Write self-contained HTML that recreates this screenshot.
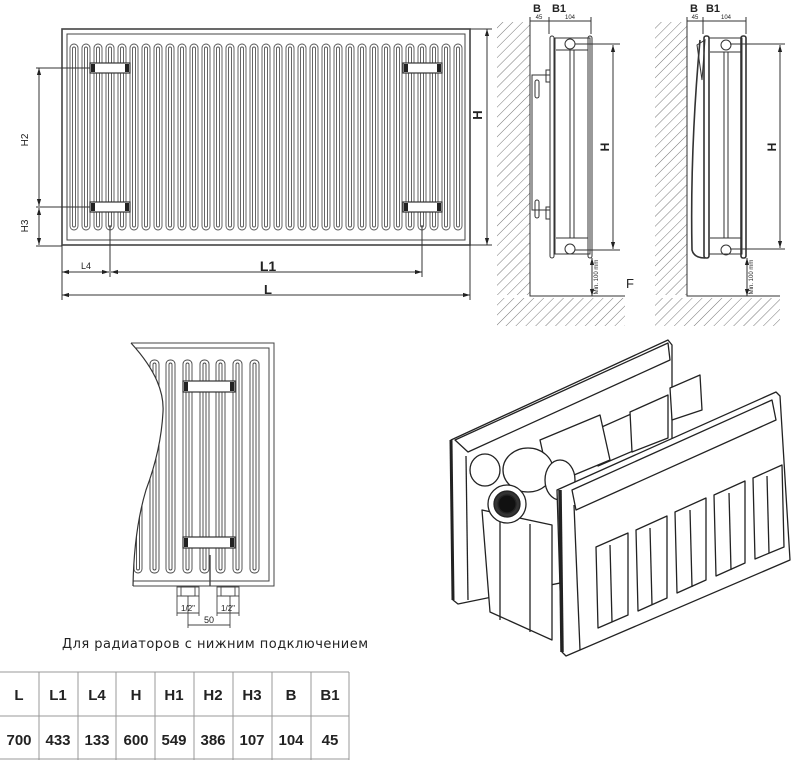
<!DOCTYPE html>
<html><head><meta charset="utf-8"><style>
html,body{margin:0;padding:0;background:#fff;}
svg{display:block}
text{font-family:"Liberation Sans",sans-serif;fill:#222}
</style></head><body>
<svg width="792" height="760" viewBox="0 0 792 760" xmlns="http://www.w3.org/2000/svg">
<defs>
<pattern id="h" width="7" height="7" patternUnits="userSpaceOnUse" patternTransform="rotate(45)">
<line x1="0" y1="0" x2="0" y2="7" stroke="#777" stroke-width="1"/>
</pattern>
<marker id="a" viewBox="0 0 10 10" refX="10" refY="5" markerWidth="7" markerHeight="7" orient="auto-start-reverse"><path d="M0,2L10,5L0,8z" fill="#222"/></marker>
</defs>

<!-- FRONT VIEW -->
<g stroke="#444" fill="none" stroke-width="1">
<rect x="62" y="29" width="408" height="216" stroke-width="1.6"/>
<rect x="67" y="34" width="398" height="206"/>
</g>
<g stroke="#555" fill="none" stroke-width="0.9">
<rect x="70" y="44" width="8" height="186" rx="4"/><rect x="72.5" y="47" width="3" height="180" rx="1.5"/>
<rect x="82" y="44" width="8" height="186" rx="4"/><rect x="84.5" y="47" width="3" height="180" rx="1.5"/>
<rect x="94" y="44" width="8" height="186" rx="4"/><rect x="96.5" y="47" width="3" height="180" rx="1.5"/>
<rect x="106" y="44" width="8" height="186" rx="4"/><rect x="108.5" y="47" width="3" height="180" rx="1.5"/>
<rect x="118" y="44" width="8" height="186" rx="4"/><rect x="120.5" y="47" width="3" height="180" rx="1.5"/>
<rect x="130" y="44" width="8" height="186" rx="4"/><rect x="132.5" y="47" width="3" height="180" rx="1.5"/>
<rect x="142" y="44" width="8" height="186" rx="4"/><rect x="144.5" y="47" width="3" height="180" rx="1.5"/>
<rect x="154" y="44" width="8" height="186" rx="4"/><rect x="156.5" y="47" width="3" height="180" rx="1.5"/>
<rect x="166" y="44" width="8" height="186" rx="4"/><rect x="168.5" y="47" width="3" height="180" rx="1.5"/>
<rect x="178" y="44" width="8" height="186" rx="4"/><rect x="180.5" y="47" width="3" height="180" rx="1.5"/>
<rect x="190" y="44" width="8" height="186" rx="4"/><rect x="192.5" y="47" width="3" height="180" rx="1.5"/>
<rect x="202" y="44" width="8" height="186" rx="4"/><rect x="204.5" y="47" width="3" height="180" rx="1.5"/>
<rect x="214" y="44" width="8" height="186" rx="4"/><rect x="216.5" y="47" width="3" height="180" rx="1.5"/>
<rect x="226" y="44" width="8" height="186" rx="4"/><rect x="228.5" y="47" width="3" height="180" rx="1.5"/>
<rect x="238" y="44" width="8" height="186" rx="4"/><rect x="240.5" y="47" width="3" height="180" rx="1.5"/>
<rect x="250" y="44" width="8" height="186" rx="4"/><rect x="252.5" y="47" width="3" height="180" rx="1.5"/>
<rect x="262" y="44" width="8" height="186" rx="4"/><rect x="264.5" y="47" width="3" height="180" rx="1.5"/>
<rect x="274" y="44" width="8" height="186" rx="4"/><rect x="276.5" y="47" width="3" height="180" rx="1.5"/>
<rect x="286" y="44" width="8" height="186" rx="4"/><rect x="288.5" y="47" width="3" height="180" rx="1.5"/>
<rect x="298" y="44" width="8" height="186" rx="4"/><rect x="300.5" y="47" width="3" height="180" rx="1.5"/>
<rect x="310" y="44" width="8" height="186" rx="4"/><rect x="312.5" y="47" width="3" height="180" rx="1.5"/>
<rect x="322" y="44" width="8" height="186" rx="4"/><rect x="324.5" y="47" width="3" height="180" rx="1.5"/>
<rect x="334" y="44" width="8" height="186" rx="4"/><rect x="336.5" y="47" width="3" height="180" rx="1.5"/>
<rect x="346" y="44" width="8" height="186" rx="4"/><rect x="348.5" y="47" width="3" height="180" rx="1.5"/>
<rect x="358" y="44" width="8" height="186" rx="4"/><rect x="360.5" y="47" width="3" height="180" rx="1.5"/>
<rect x="370" y="44" width="8" height="186" rx="4"/><rect x="372.5" y="47" width="3" height="180" rx="1.5"/>
<rect x="382" y="44" width="8" height="186" rx="4"/><rect x="384.5" y="47" width="3" height="180" rx="1.5"/>
<rect x="394" y="44" width="8" height="186" rx="4"/><rect x="396.5" y="47" width="3" height="180" rx="1.5"/>
<rect x="406" y="44" width="8" height="186" rx="4"/><rect x="408.5" y="47" width="3" height="180" rx="1.5"/>
<rect x="418" y="44" width="8" height="186" rx="4"/><rect x="420.5" y="47" width="3" height="180" rx="1.5"/>
<rect x="430" y="44" width="8" height="186" rx="4"/><rect x="432.5" y="47" width="3" height="180" rx="1.5"/>
<rect x="442" y="44" width="8" height="186" rx="4"/><rect x="444.5" y="47" width="3" height="180" rx="1.5"/>
<rect x="454" y="44" width="8" height="186" rx="4"/><rect x="456.5" y="47" width="3" height="180" rx="1.5"/>
</g>
<g stroke="#333" stroke-width="1.2" fill="#fff">
<rect x="90" y="63" width="40" height="10"/><rect x="90" y="202" width="40" height="10"/>
<rect x="403" y="63" width="39" height="10"/><rect x="403" y="202" width="39" height="10"/>
</g>
<g fill="#222">
<rect x="91" y="64" width="4" height="8"/><rect x="125" y="64" width="4" height="8"/>
<rect x="91" y="203" width="4" height="8"/><rect x="125" y="203" width="4" height="8"/>
<rect x="404" y="64" width="4" height="8"/><rect x="437" y="64" width="4" height="8"/>
<rect x="404" y="203" width="4" height="8"/><rect x="437" y="203" width="4" height="8"/>
</g>
<g stroke="#333" stroke-width="1" fill="none">
<line x1="36" y1="68" x2="90" y2="68"/><line x1="36" y1="207" x2="90" y2="207"/>
<line x1="36" y1="246" x2="62" y2="246"/>
<line x1="39" y1="68" x2="39" y2="206" marker-start="url(#a)" marker-end="url(#a)"/>
<line x1="39" y1="208" x2="39" y2="245" marker-start="url(#a)" marker-end="url(#a)"/>
<line x1="470" y1="29" x2="492" y2="29"/><line x1="470" y1="245" x2="492" y2="245"/>
<line x1="487" y1="29" x2="487" y2="245" marker-start="url(#a)" marker-end="url(#a)"/>
<line x1="62" y1="245" x2="62" y2="300"/><line x1="470" y1="245" x2="470" y2="300"/>
<line x1="110" y1="225" x2="110" y2="277"/><line x1="422" y1="225" x2="422" y2="277"/>
<line x1="62" y1="272" x2="109" y2="272" marker-start="url(#a)" marker-end="url(#a)"/>
<line x1="111" y1="272" x2="422" y2="272" marker-start="url(#a)" marker-end="url(#a)"/>
<line x1="62" y1="295" x2="470" y2="295" marker-start="url(#a)" marker-end="url(#a)"/>
</g>
<text x="28" y="140" font-size="10" transform="rotate(-90 28 140)" text-anchor="middle">H2</text>
<text x="28" y="226" font-size="10" transform="rotate(-90 28 226)" text-anchor="middle">H3</text>
<text x="502" y="135" font-size="13" font-weight="bold" transform="rotate(-90 482 135)" text-anchor="middle">H</text>
<text x="86" y="269" font-size="9" text-anchor="middle">L4</text>
<text x="268" y="271" font-size="14" font-weight="bold" text-anchor="middle">L1</text>
<text x="268" y="294" font-size="13" font-weight="bold" text-anchor="middle">L</text>

<!-- SIDE VIEW 1 -->
<rect x="497" y="22" width="33" height="273" fill="url(#h)"/>
<rect x="497" y="298" width="128" height="28" fill="url(#h)"/>
<g stroke="#333" fill="none" stroke-width="1">
<polyline points="530,22 530,296 625,296"/>
<line x1="530" y1="17" x2="530" y2="24"/><line x1="549" y1="17" x2="549" y2="34"/><line x1="591" y1="17" x2="591" y2="34"/>
<line x1="530" y1="21" x2="549" y2="21"/><line x1="549" y1="21" x2="591" y2="21"/>
<rect x="550" y="36" width="4" height="222" rx="2"/>
<rect x="555" y="38" width="35" height="216"/>
<rect x="588" y="36" width="4" height="222" rx="2"/>
<line x1="556" y1="50" x2="588" y2="50"/><line x1="556" y1="238" x2="588" y2="238"/>
<line x1="570" y1="50" x2="570" y2="238"/><line x1="574" y1="50" x2="574" y2="238"/>
<circle cx="570" cy="44" r="5"/><circle cx="570" cy="249" r="5"/>
<rect x="532" y="75" width="18" height="135"/>
<rect x="546" y="70" width="4" height="12"/><rect x="546" y="207" width="4" height="12"/>
<rect x="535" y="80" width="4" height="18" rx="2"/><rect x="535" y="200" width="4" height="18" rx="2"/>
<line x1="575" y1="44" x2="620" y2="44"/><line x1="575" y1="250" x2="620" y2="250"/>
<line x1="613" y1="45" x2="613" y2="249" marker-start="url(#a)" marker-end="url(#a)"/>
<line x1="592" y1="258" x2="592" y2="296" marker-start="url(#a)" marker-end="url(#a)"/>
</g>
<text x="537" y="12" font-size="11" font-weight="bold" text-anchor="middle">B</text>
<text x="559" y="12" font-size="11" font-weight="bold" text-anchor="middle">B1</text>
<text x="539" y="19" font-size="6" text-anchor="middle">45</text>
<text x="570" y="19" font-size="6" text-anchor="middle">104</text>
<text x="609" y="147" font-size="12" font-weight="bold" transform="rotate(-90 609 147)" text-anchor="middle">H</text>
<text x="598" y="277" font-size="6" transform="rotate(-90 598 277)" text-anchor="middle">Min. 100 mm</text>
<text x="626" y="288" font-size="13">F</text>

<!-- SIDE VIEW 2 -->
<rect x="655" y="22" width="32" height="273" fill="url(#h)"/>
<rect x="655" y="298" width="125" height="28" fill="url(#h)"/>
<g stroke="#333" fill="none" stroke-width="1">
<polyline points="687,22 687,296 780,296"/>
<line x1="687" y1="17" x2="687" y2="24"/><line x1="703" y1="17" x2="703" y2="34"/><line x1="746" y1="17" x2="746" y2="34"/>
<line x1="687" y1="21" x2="703" y2="21"/><line x1="703" y1="21" x2="746" y2="21"/>
<path d="M700,40 Q690,150 692,250 Q694,258 705,258" stroke-width="1.6"/>
<path d="M697,45 L705,40 L702,80 Z" stroke-width="1"/>
<rect x="704" y="36" width="5" height="222" rx="2" stroke-width="1.6"/>
<rect x="709" y="38" width="33" height="216"/>
<rect x="741" y="36" width="5" height="222" rx="2" stroke-width="1.6"/>
<line x1="710" y1="52" x2="741" y2="52"/><line x1="710" y1="238" x2="741" y2="238"/>
<line x1="724" y1="52" x2="724" y2="238"/><line x1="728" y1="52" x2="728" y2="238"/>
<circle cx="726" cy="45" r="5"/><circle cx="726" cy="250" r="5"/>
<line x1="730" y1="44" x2="785" y2="44"/><line x1="730" y1="249" x2="785" y2="249"/>
<line x1="780" y1="45" x2="780" y2="248" marker-start="url(#a)" marker-end="url(#a)"/>
<line x1="747" y1="258" x2="747" y2="296" marker-start="url(#a)" marker-end="url(#a)"/>
</g>
<text x="694" y="12" font-size="11" font-weight="bold" text-anchor="middle">B</text>
<text x="713" y="12" font-size="11" font-weight="bold" text-anchor="middle">B1</text>
<text x="695" y="19" font-size="6" text-anchor="middle">45</text>
<text x="726" y="19" font-size="6" text-anchor="middle">104</text>
<text x="776" y="147" font-size="12" font-weight="bold" transform="rotate(-90 776 147)" text-anchor="middle">H</text>
<text x="753" y="277" font-size="6" transform="rotate(-90 753 277)" text-anchor="middle">Min. 100 mm</text>

<!-- BOTTOM CONNECTION VIEW -->
<g stroke="#444" fill="none" stroke-width="0.9">
<rect x="134" y="360" width="8" height="213" rx="4"/><rect x="136.5" y="363" width="3" height="207" rx="1.5"/>
<rect x="150" y="360" width="9" height="213" rx="4"/><rect x="153" y="363" width="3" height="207" rx="1.5"/>
<rect x="166" y="360" width="9" height="213" rx="4"/><rect x="169" y="363" width="3" height="207" rx="1.5"/>
<rect x="183" y="360" width="9" height="213" rx="4"/><rect x="186" y="363" width="3" height="207" rx="1.5"/>
<rect x="200" y="360" width="9" height="213" rx="4"/><rect x="203" y="363" width="3" height="207" rx="1.5"/>
<rect x="216" y="360" width="9" height="213" rx="4"/><rect x="219" y="363" width="3" height="207" rx="1.5"/>
<rect x="233" y="360" width="9" height="213" rx="4"/><rect x="236" y="363" width="3" height="207" rx="1.5"/>
<rect x="250" y="360" width="9" height="213" rx="4"/><rect x="253" y="363" width="3" height="207" rx="1.5"/>
</g>
<path d="M100,338 L131,343 Q165,380 163,412 Q161,450 146,490 Q134,530 133,586 L100,600 Z" fill="#fff" stroke="none"/>
<g stroke="#444" fill="none" stroke-width="1">
<polyline points="131,343 274,343 274,586 133,586"/>
<polyline points="136,348 269,348 269,581 133,581"/>
<line x1="210" y1="555" x2="210" y2="586" stroke-width="1.4"/>
</g>
<path d="M131,343 Q165,380 163,412 Q161,450 146,490 Q134,530 133,586" fill="none" stroke="#333" stroke-width="1.2"/>
<g stroke="#333" stroke-width="1.2" fill="#fff">
<rect x="183" y="381" width="52" height="11"/><rect x="183" y="537" width="52" height="11"/>
</g>
<g fill="#222">
<rect x="184" y="382" width="4" height="9"/><rect x="230" y="382" width="4" height="9"/>
<rect x="184" y="538" width="4" height="9"/><rect x="230" y="538" width="4" height="9"/>
</g>
<g stroke="#444" fill="none" stroke-width="0.9">
<rect x="177" y="587" width="22" height="9"/><rect x="181" y="587" width="14" height="9"/>
<rect x="217" y="587" width="22" height="9"/><rect x="221" y="587" width="14" height="9"/>
<line x1="177" y1="596" x2="177" y2="616"/><line x1="199" y1="596" x2="199" y2="616"/>
<line x1="217" y1="596" x2="217" y2="616"/><line x1="239" y1="596" x2="239" y2="616"/>
<line x1="188" y1="596" x2="188" y2="628"/><line x1="230" y1="596" x2="230" y2="628"/>
<line x1="177" y1="613" x2="199" y2="613"/><line x1="217" y1="613" x2="239" y2="613"/>
<line x1="188" y1="625" x2="230" y2="625"/>
</g>
<text x="188" y="611" font-size="8" text-anchor="middle">1/2"</text>
<text x="228" y="611" font-size="8" text-anchor="middle">1/2"</text>
<text x="209" y="623" font-size="9" text-anchor="middle">50</text>
<text x="62" y="648" font-size="13" style="font-family:'DejaVu Sans','Liberation Sans',sans-serif" fill="#333" textLength="306">Для радиаторов с нижним подключением</text>

<!-- 3D VIEW -->
<g stroke="#222" stroke-width="1.3" fill="#fff" stroke-linejoin="round">
<polygon points="451,440 668,340 672,345 672,560 458,604 453,600"/>
<polygon points="455,440 668,343 670,360 468,452"/>
<line x1="466" y1="456" x2="468" y2="600"/>
<line x1="451" y1="440" x2="453" y2="600" stroke-width="3"/>
<polygon points="595,430 640,410 640,448 598,466"/>
<polygon points="630,412 668,395 668,438 632,452"/>
<polygon points="670,388 700,375 702,410 672,420"/>
<polygon points="540,440 600,415 610,460 550,485"/>
<ellipse cx="485" cy="470" rx="15" ry="16"/>
<ellipse cx="528" cy="470" rx="25" ry="22"/>
<ellipse cx="560" cy="480" rx="15" ry="20"/>
<polygon points="482,510 552,525 552,640 490,612"/>
<line x1="500" y1="518" x2="500" y2="620"/><line x1="530" y1="524" x2="530" y2="632"/>
<circle cx="507" cy="504" r="19"/>
<circle cx="507" cy="504" r="13" fill="#333"/>
<circle cx="507" cy="504" r="9" fill="#111"/>
<polygon points="557,490 776,392 780,396 790,560 566,656 562,652"/>
<line x1="560" y1="490" x2="562" y2="652" stroke-width="3.5"/>
<polygon points="572,490 772,400 776,420 576,510"/>
<line x1="574" y1="505" x2="580" y2="650"/>
<polygon points="596,547 628,533 628,615 598,628"/>
<polygon points="636,530 667,516 667,598 638,611"/>
<polygon points="675,512 706,498 706,580 677,593"/>
<polygon points="714,495 745,481 745,563 716,576"/>
<polygon points="753,478 782,465 784,547 755,559"/>
<line x1="610" y1="545" x2="612" y2="622"/><line x1="650" y1="528" x2="652" y2="605"/>
<line x1="690" y1="510" x2="692" y2="587"/><line x1="729" y1="493" x2="731" y2="570"/>
<line x1="767" y1="476" x2="769" y2="553"/>
</g>

<!-- TABLE -->
<g stroke="#999" stroke-width="1">
<line x1="0" y1="672" x2="349" y2="672"/><line x1="0" y1="716" x2="349" y2="716"/><line x1="0" y1="759" x2="349" y2="759"/>
<line x1="39" y1="672" x2="39" y2="760"/><line x1="78" y1="672" x2="78" y2="760"/><line x1="116" y1="672" x2="116" y2="760"/>
<line x1="155" y1="672" x2="155" y2="760"/><line x1="194" y1="672" x2="194" y2="760"/><line x1="233" y1="672" x2="233" y2="760"/>
<line x1="272" y1="672" x2="272" y2="760"/><line x1="311" y1="672" x2="311" y2="760"/><line x1="349" y1="672" x2="349" y2="760"/>
</g>
<g font-size="15" font-weight="bold" text-anchor="middle">
<text x="19" y="700">L</text><text x="58" y="700">L1</text><text x="97" y="700">L4</text><text x="136" y="700">H</text><text x="174" y="700">H1</text><text x="213" y="700">H2</text><text x="252" y="700">H3</text><text x="291" y="700">B</text><text x="330" y="700">B1</text>
<text x="19" y="745">700</text><text x="58" y="745">433</text><text x="97" y="745">133</text><text x="136" y="745">600</text><text x="174" y="745">549</text><text x="213" y="745">386</text><text x="252" y="745">107</text><text x="291" y="745">104</text><text x="330" y="745">45</text>
</g>
</svg>
</body></html>
